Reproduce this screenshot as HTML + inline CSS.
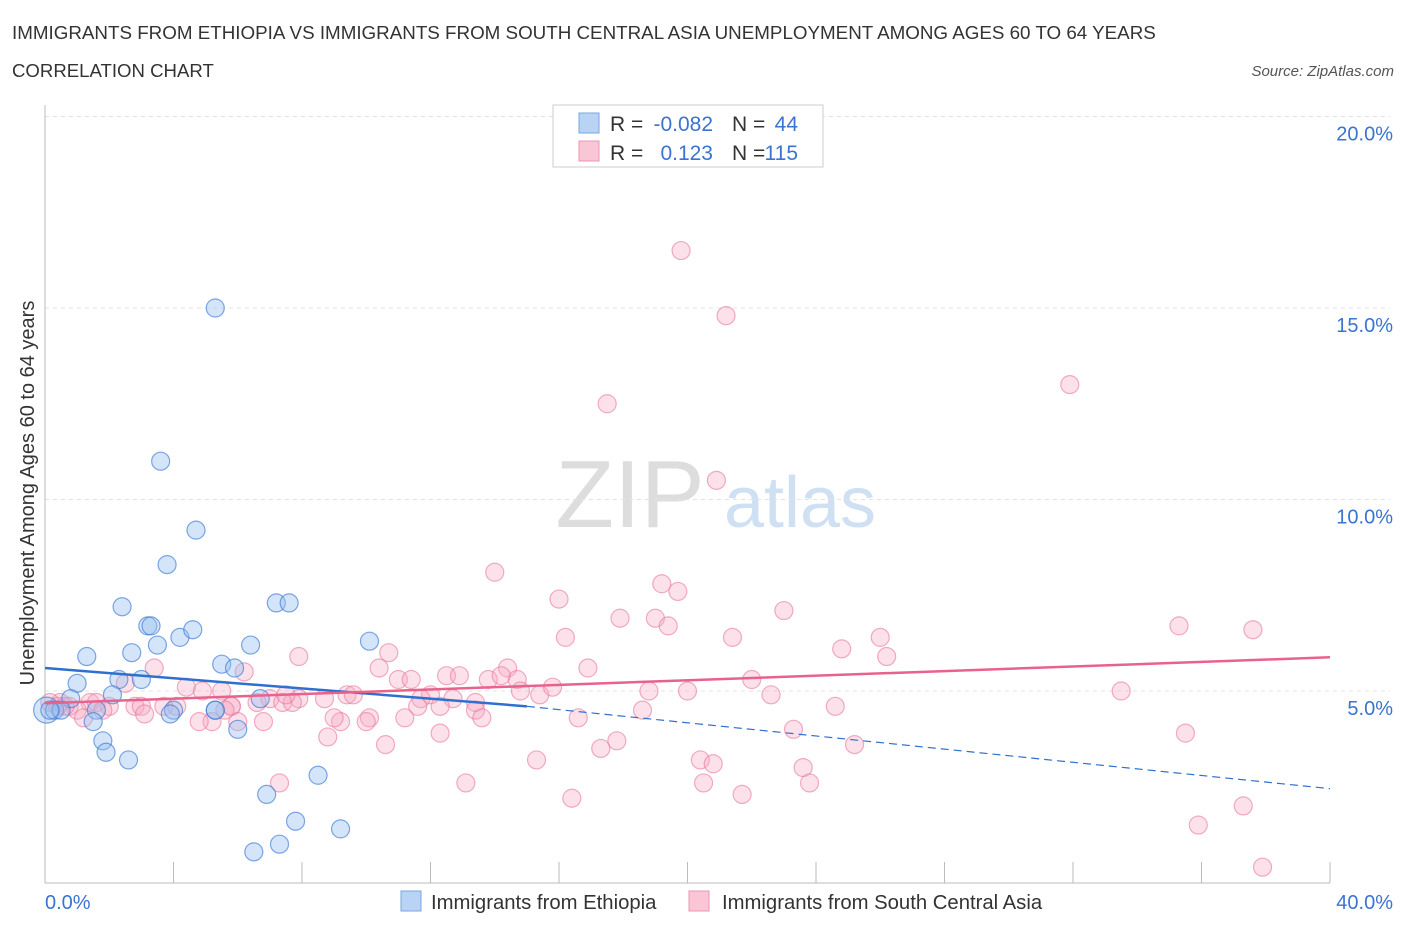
<!DOCTYPE html>
<html><head><meta charset="utf-8"><style>
body{margin:0;background:#fff;font-family:"Liberation Sans",sans-serif;}
svg text{font-family:"Liberation Sans",sans-serif;}
</style></head><body>
<svg id="chart" width="1406" height="930" xmlns="http://www.w3.org/2000/svg">
<text x="12" y="39" font-size="18.8" fill="#333">IMMIGRANTS FROM ETHIOPIA VS IMMIGRANTS FROM SOUTH CENTRAL ASIA UNEMPLOYMENT AMONG AGES 60 TO 64 YEARS</text>
<text x="12" y="77" font-size="18.6" fill="#333">CORRELATION CHART</text>
<text x="1394" y="76" font-size="15" fill="#555" font-style="italic" text-anchor="end">Source: ZipAtlas.com</text>
<text x="630" y="527" font-size="96" fill="#ddd" font-family="Liberation Serif" text-anchor="middle">ZIP</text>
<text x="800" y="527" font-size="72" fill="#cfe0f3" text-anchor="middle">atlas</text>
<g id="grid"></g>
<g id="axes"></g>
<g id="marks"></g>
<text transform="translate(34,493) rotate(-90)" font-size="20" fill="#333" text-anchor="middle">Unemployment Among Ages 60 to 64 years</text>
<g>
<rect x="553" y="105" width="270" height="62" fill="#fff" stroke="#ccc"/>
<rect x="579" y="113" width="20" height="20" fill="#b9d3f5" stroke="#7aa6e0"/>
<rect x="579" y="141" width="20" height="20" fill="#fac6d6" stroke="#ec95b0"/>
<text x="610" y="131" font-size="21" fill="#333">R =</text>
<text x="713" y="131" font-size="21" fill="#3a74d0" text-anchor="end">-0.082</text>
<text x="732" y="131" font-size="21" fill="#333">N =</text>
<text x="798" y="131" font-size="21" fill="#3a74d0" text-anchor="end">44</text>
<text x="610" y="160" font-size="21" fill="#333">R =</text>
<text x="713" y="160" font-size="21" fill="#3a74d0" text-anchor="end">0.123</text>
<text x="732" y="160" font-size="21" fill="#333">N =</text>
<text x="798" y="160" font-size="21" fill="#3a74d0" text-anchor="end">115</text>
</g>
<g>
<rect x="401" y="891" width="20" height="20" fill="#b9d3f5" stroke="#7aa6e0"/>
<text x="431" y="909" font-size="20.3" fill="#333">Immigrants from Ethiopia</text>
<rect x="689" y="891" width="20" height="20" fill="#fac6d6" stroke="#ec95b0"/>
<text x="722" y="909" font-size="20.3" fill="#333">Immigrants from South Central Asia</text>
</g>
</svg>
<script>
const yTicks=[5,10,15,20];
const yTickLabels=["5.0%","10.0%","15.0%","20.0%"];
const xTickLabels=["0.0%","40.0%"];
const ethX=[5.3,3.6,4.7,3.8,2.4,7.2,7.6,3.2,3.3,4.2,4.6,6.4,3.5,1.3,2.7,5.5,5.9,2.3,3.0,1.0,0.8,2.1,6.7,10.1,1.6,1.5,1.8,1.9,2.6,6.0,5.3,4.0,3.9,8.5,6.9,7.8,9.2,7.3,6.5,0.05,0.3,0.5,0.15,5.3];
const ethY=[15.0,11.0,9.2,8.3,7.2,7.3,7.3,6.7,6.7,6.4,6.6,6.2,6.2,5.9,6.0,5.7,5.6,5.3,5.3,5.2,4.8,4.9,4.8,6.3,4.5,4.2,3.7,3.4,3.2,4.0,4.5,4.5,4.4,2.8,2.3,1.6,1.4,1.0,0.8,4.5,4.5,4.5,4.5,4.5];
const scaX=[19.8,21.2,31.9,17.5,20.9,14.0,19.2,19.7,16.0,23.0,17.9,19.0,19.4,35.3,37.6,16.2,21.4,26.0,10.7,7.9,24.8,26.2,3.4,6.2,14.4,16.9,10.4,12.5,12.9,22.0,11.0,11.4,13.8,14.7,14.2,2.5,4.4,5.5,4.9,18.8,20.0,14.8,15.4,15.8,22.6,33.5,9.4,9.6,7.9,7.0,7.4,7.7,8.7,12.0,11.7,12.7,13.4,1.4,1.6,2.0,2.8,3.0,3.7,4.1,0.75,0.47,5.8,6.6,24.6,12.3,11.6,13.4,18.6,5.8,1.8,1.0,1.2,5.2,4.8,6.0,6.8,10.1,9.2,10.0,11.2,13.6,16.6,23.3,35.5,8.8,10.6,12.3,17.8,17.3,25.2,15.3,20.4,20.8,23.6,13.1,23.8,7.3,20.5,21.7,16.4,37.3,35.9,37.9,0.15,0.4,0.62,5.6,7.5,3.1,9.0];
const scaY=[16.5,14.8,13.0,12.5,10.5,8.1,7.8,7.6,7.4,7.1,6.9,6.9,6.7,6.7,6.6,6.4,6.4,6.4,6.0,5.9,6.1,5.9,5.6,5.5,5.6,5.6,5.6,5.4,5.4,5.3,5.3,5.3,5.3,5.3,5.4,5.2,5.1,5.0,5.0,5.0,5.0,5.0,4.9,5.1,4.9,5.0,4.9,4.9,4.8,4.8,4.7,4.7,4.8,4.9,4.8,4.8,4.7,4.7,4.7,4.6,4.6,4.6,4.6,4.6,4.6,4.7,4.6,4.7,4.6,4.6,4.6,4.5,4.5,4.6,4.5,4.5,4.3,4.2,4.2,4.2,4.2,4.3,4.2,4.2,4.3,4.3,4.3,4.0,3.9,3.8,3.6,3.9,3.7,3.5,3.6,3.2,3.2,3.1,3.0,2.6,2.6,2.6,2.6,2.3,2.2,2.0,1.5,0.4,4.7,4.6,4.6,4.5,4.9,4.4,4.3];
const ethTrend=[5.6,4.6,2.45]; // at x=0, 15.0, 40
const scaTrend=[4.68,5.88];
const NS="http://www.w3.org/2000/svg";
const X0=45,X1=1330,YB=882.5;
const xs=v=>X0+v/40*(X1-X0);
const ys=v=>YB-v/5*191.5;
function mk(tag,attrs,parent){const e=document.createElementNS(NS,tag);for(const k in attrs)e.setAttribute(k,attrs[k]);parent.appendChild(e);return e;}
const grid=document.getElementById('grid'),axes=document.getElementById('axes'),marks=document.getElementById('marks');
mk('line',{x1:X0,y1:ys(20),x2:X1+60,y2:ys(20),stroke:'#e3e3e3','stroke-dasharray':'4,4'},grid);
yTicks.forEach((t,i)=>{
 const l=mk('line',{x1:X0,y1:ys(t),x2:X1+60,y2:ys(t),stroke:'#e3e3e3','stroke-dasharray':'4,4'},grid);
 
 
 const tx=mk('text',{x:1393,y:ys(t)+24,'font-size':20,fill:'#3a74d0','text-anchor':'end'},axes);
 tx.textContent=yTickLabels[i];
 
 
});
const ya=mk('line',{x1:X0,y1:105,x2:X0,y2:883,stroke:'#bbb'},axes);


const xa=mk('line',{x1:X0,y1:883,x2:X1,y2:883,stroke:'#bbb'},axes);


for(let i=0;i<=10;i++){const l=mk('line',{x1:xs(i*4),y1:862,x2:xs(i*4),y2:883,stroke:'#bbb'},axes);
 
 }
[[0,'start',45],[40,'end',1393]].forEach((d,i)=>{const t=mk('text',{x:d[2],y:909,'font-size':20,fill:'#3a74d0','text-anchor':d[1]},axes);t.textContent=xTickLabels[i];
 
 });
scaX.forEach((v,i)=>{const c=mk('circle',{cx:xs(v),cy:ys(scaY[i]),r:9,fill:'rgba(247,170,195,0.35)',stroke:'rgba(232,120,155,0.6)','stroke-width':1.2},marks);
 
 });
ethX.forEach((v,i)=>{const c=mk('circle',{cx:xs(v),cy:ys(ethY[i]),r:i==39?13:9,fill:'rgba(150,190,240,0.4)',stroke:'rgba(60,120,210,0.65)','stroke-width':1.2},marks);
 
 });
const tb=mk('line',{x1:xs(0),y1:ys(ethTrend[0]),x2:xs(15),y2:ys(ethTrend[1]),stroke:'#2f6fd0','stroke-width':2.5},marks);


const tbd=mk('line',{x1:xs(15),y1:ys(ethTrend[1]),x2:xs(40),y2:ys(ethTrend[2]),stroke:'#2f6fd0','stroke-width':1.2,'stroke-dasharray':'8,5'},marks);


const tp=mk('line',{x1:xs(0),y1:ys(scaTrend[0]),x2:xs(40),y2:ys(scaTrend[1]),stroke:'#e9628c','stroke-width':2.5},marks);


</script>
</body></html>
